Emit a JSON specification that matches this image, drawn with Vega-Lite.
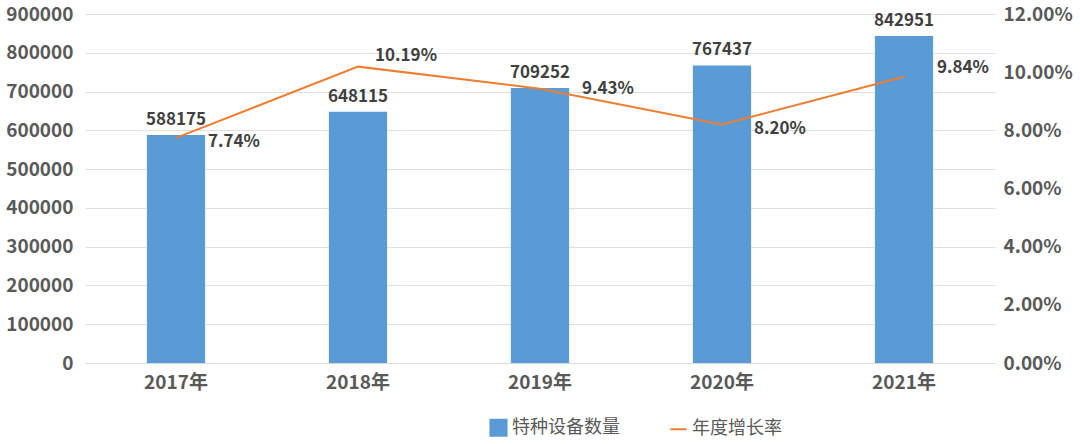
{
  "$schema": "https://vega.github.io/schema/vega-lite/v6.json",
  "width": 910,
  "height": 349,
  "autosize": "none",
  "padding": {"left": 85, "top": 14, "right": 85, "bottom": 81},
  "background": "white",
  "config": {
    "view": {"stroke": null},
    "font": "Noto Sans CJK SC",
    "axis": {"labelFont": "Noto Sans CJK SC", "labelFontWeight": "bold", "labelFontSize": 19, "labelColor": "#595959", "ticks": false, "domain": false},
    "legend": {"labelFont": "Noto Sans CJK SC", "labelFontSize": 18, "labelColor": "#595959"}
  },
  "data": {"values": [
    {"year": "2017年", "count": 588175, "rate": 0.0774, "rateLabel": "7.74%"},
    {"year": "2018年", "count": 648115, "rate": 0.1019, "rateLabel": "10.19%"},
    {"year": "2019年", "count": 709252, "rate": 0.0943, "rateLabel": "9.43%"},
    {"year": "2020年", "count": 767437, "rate": 0.0820, "rateLabel": "8.20%"},
    {"year": "2021年", "count": 842951, "rate": 0.0984, "rateLabel": "9.84%"}
  ]},
  "encoding": {
    "x": {"field": "year", "type": "nominal", "sort": null,
      "scale": {"paddingInner": 0.68, "paddingOuter": 0.34},
      "axis": {"title": null, "labelAngle": 0, "domain": true, "domainColor": "#d9d9d9", "labelPadding": 10}}
  },
  "layer": [
    {
      "encoding": {
        "y": {"field": "count", "type": "quantitative",
          "scale": {"domain": [0, 900000]},
          "axis": {"title": null, "values": [0,100000,200000,300000,400000,500000,600000,700000,800000,900000], "format": "d", "grid": true, "gridColor": "#e0e0e0", "labelPadding": 12}}
      },
      "layer": [
        {
          "mark": {"type": "bar"},
          "encoding": {
            "color": {"datum": "特种设备数量", "type": "nominal",
              "scale": {"domain": ["特种设备数量", "年度增长率"], "range": ["#5B9BD5", "#ED7D31"]},
              "legend": {"orient": "none", "legendX": 404, "legendY": 404, "direction": "horizontal", "title": null, "symbolSize": 260, "columnPadding": 46, "labelLimit": 300,
                "encode": {"symbols": {"update": {
                  "shape": {"signal": "datum.value === '年度增长率' ? 'stroke' : 'square'"},
                  "fill": {"signal": "datum.value === '年度增长率' ? 'transparent' : '#5B9BD5'"},
                  "stroke": {"signal": "datum.value === '年度增长率' ? '#ED7D31' : '#5B9BD5'"},
                  "strokeWidth": {"value": 2},
                  "opacity": {"value": 1}
                }}}}}
          }
        },
        {
          "mark": {"type": "text", "baseline": "bottom", "dy": -6, "fontSize": 17, "fontWeight": "bold", "color": "#404040"},
          "encoding": {
            "text": {"field": "count", "type": "quantitative", "format": "d"}
          }
        }
      ]
    },
    {
      "encoding": {
        "y": {"field": "rate", "type": "quantitative",
          "scale": {"domain": [0, 0.12]},
          "axis": {"title": null, "orient": "right", "values": [0,0.02,0.04,0.06,0.08,0.1,0.12], "format": ".2%", "grid": false, "labelPadding": 8}}
      },
      "layer": [
        {
          "mark": {"type": "line", "strokeWidth": 2},
          "encoding": {
            "color": {"datum": "年度增长率", "type": "nominal"}
          }
        },
        {
          "transform": [{"filter": "datum.year === '2018年'"}],
          "mark": {"type": "text", "align": "left", "baseline": "middle", "dx": 17, "dy": -11, "fontSize": 17, "fontWeight": "bold", "color": "#404040"},
          "encoding": {"text": {"field": "rateLabel", "type": "nominal"}}
        },
        {
          "transform": [{"filter": "datum.year === '2021年'"}],
          "mark": {"type": "text", "align": "left", "baseline": "middle", "dx": 33, "dy": -9, "fontSize": 17, "fontWeight": "bold", "color": "#404040"},
          "encoding": {"text": {"field": "rateLabel", "type": "nominal"}}
        },
        {
          "transform": [{"filter": "datum.year === '2019年'"}],
          "mark": {"type": "text", "align": "left", "baseline": "middle", "dx": 42, "dy": 0, "fontSize": 17, "fontWeight": "bold", "color": "#404040"},
          "encoding": {"text": {"field": "rateLabel", "type": "nominal"}}
        },
        {
          "transform": [{"filter": "datum.year === '2017年' || datum.year === '2020年'"}],
          "mark": {"type": "text", "align": "left", "baseline": "middle", "dx": 32, "dy": 4, "fontSize": 17, "fontWeight": "bold", "color": "#404040"},
          "encoding": {"text": {"field": "rateLabel", "type": "nominal"}}
        }
      ]
    }
  ],
  "resolve": {"scale": {"y": "independent"}}
}
